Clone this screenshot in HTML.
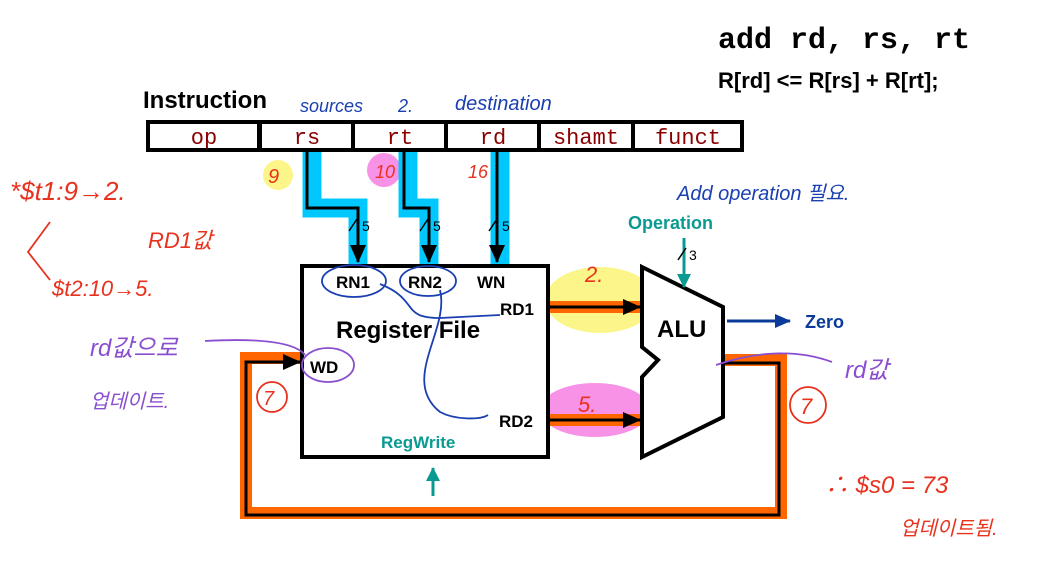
<!DOCTYPE html>
<html><head><meta charset="utf-8"><style>
html,body{margin:0;padding:0;background:#fff;}
svg{display:block;}
text{font-family:"Liberation Sans","Noto Sans CJK KR",sans-serif;}
.m,.m text{font-family:"Liberation Mono",monospace;}
.h,.h text{font-family:"Liberation Sans","Noto Sans CJK KR",sans-serif;font-style:italic;}
</style></head><body>
<svg width="1050" height="562" viewBox="0 0 1050 562" xmlns="http://www.w3.org/2000/svg">
<defs>
<marker id="abig" markerWidth="18" markerHeight="16" refX="17" refY="8" orient="auto" markerUnits="userSpaceOnUse"><path d="M0,0 L18,8 L0,16z" fill="#000"/></marker>
<marker id="at" markerWidth="14" markerHeight="14" refX="13" refY="7" orient="auto" markerUnits="userSpaceOnUse"><path d="M0,0 L14,7 L0,14z" fill="#0a9a92"/></marker>
<marker id="an" markerWidth="16" markerHeight="14" refX="15" refY="7" orient="auto" markerUnits="userSpaceOnUse"><path d="M0,0 L16,7 L0,14z" fill="#0a3a9a"/></marker>
</defs>
<circle cx="278" cy="175" r="15" fill="#fbf58a"/>
<circle cx="384" cy="170" r="17" fill="#f892e6"/>
<ellipse cx="600" cy="300" rx="55" ry="33" fill="#fbf58a"/>
<ellipse cx="595" cy="410" rx="55" ry="27" fill="#f892e6"/>
<text x="718" y="48" class="m" font-size="30" font-weight="bold">add rd, rs, rt</text>
<text x="718" y="88" font-size="22" font-weight="bold">R[rd] &lt;= R[rs] + R[rt];</text>
<text x="143" y="108" font-size="24" font-weight="bold">Instruction</text>
<path d="M312,150 V208 H358 V265" fill="none" stroke="#00c8ff" stroke-width="19"/>
<path d="M408,150 V208 H429 V265" fill="none" stroke="#00c8ff" stroke-width="19"/>
<path d="M500,150 V265" fill="none" stroke="#00c8ff" stroke-width="19"/>
<rect x="148" y="122" width="594" height="28" fill="#fff" stroke="#000" stroke-width="4"/>
<g fill="#000"><rect x="257" y="122" width="5" height="28"/><rect x="351" y="122" width="4" height="28"/><rect x="444" y="122" width="4" height="28"/><rect x="537" y="122" width="4" height="28"/><rect x="631" y="122" width="4" height="28"/></g>
<g class="m" font-size="22" fill="#8b0000" text-anchor="middle">
<text x="204" y="144">op</text><text x="307" y="144">rs</text><text x="400" y="144">rt</text><text x="493" y="144">rd</text><text x="586" y="144">shamt</text><text x="688" y="144">funct</text></g>
<g fill="none" stroke="#000" stroke-width="3">
<path d="M307,152 V208 H358 V262" marker-end="url(#abig)"/>
<path d="M404,152 V208 H429 V262" marker-end="url(#abig)"/>
<path d="M497,152 V262" marker-end="url(#abig)"/>
<path d="M349,231 L357,219 M420,231 L428,219 M489,231 L497,219" stroke-width="1.5"/>
</g>
<g font-size="14"><text x="362" y="231">5</text><text x="433" y="231">5</text><text x="502" y="231">5</text></g>
<rect x="302" y="266" width="246" height="191" fill="#fff" stroke="#000" stroke-width="4"/>
<g font-weight="bold" font-size="17">
<text x="336" y="288">RN1</text><text x="408" y="288">RN2</text><text x="477" y="288">WN</text>
<text x="500" y="315">RD1</text><text x="499" y="427">RD2</text><text x="310" y="373">WD</text></g>
<text x="336" y="338" font-size="24" font-weight="bold">Register File</text>
<text x="381" y="448" font-size="17" font-weight="bold" fill="#0a9a92">RegWrite</text>
<line x1="433" y1="496" x2="433" y2="468" stroke="#0a9a92" stroke-width="3" marker-end="url(#at)"/>
<g fill="none" stroke="#ff6600" stroke-width="12">
<line x1="550" y1="307" x2="640" y2="307"/><line x1="550" y1="420" x2="640" y2="420"/>
<path d="M724,360 H781 V513 H246 V358 H300"/></g>
<g fill="none" stroke="#000" stroke-width="3">
<line x1="550" y1="307" x2="640" y2="307" marker-end="url(#abig)"/>
<line x1="550" y1="420" x2="640" y2="420" marker-end="url(#abig)"/>
<path d="M724,363 H779 V515 H246 V362 H300" marker-end="url(#abig)"/></g>
<polygon points="642,267 723,307 723,417 642,457 642,377 658,360 642,347" fill="#fff" stroke="#000" stroke-width="4"/>
<text x="657" y="337" font-size="24" font-weight="bold">ALU</text>
<text x="628" y="229" font-size="18" font-weight="bold" fill="#0a9a92">Operation</text>
<line x1="684" y1="238" x2="684" y2="287" stroke="#0a9a92" stroke-width="3" marker-end="url(#at)"/>
<path d="M678,260 L686,248" stroke="#000" stroke-width="1.5"/><text x="689" y="260" font-size="14">3</text>
<line x1="727" y1="321" x2="790" y2="321" stroke="#0a3a9a" stroke-width="3" marker-end="url(#an)"/>
<text x="805" y="328" font-size="18" font-weight="bold" fill="#0a3a9a">Zero</text>
<g class="h" fill="#1a3fb0">
<text x="300" y="112" font-size="18">sources</text><text x="398" y="112" font-size="18">2.</text>
<text x="455" y="110" font-size="20">destination</text>
<text x="677" y="200" font-size="20">Add operation 필요.</text></g>
<g fill="none" stroke="#1a3fb0" stroke-width="1.8">
<ellipse cx="354" cy="281" rx="32" ry="16"/><ellipse cx="428" cy="281" rx="28" ry="15"/>
<path d="M380,284 C420,300 400,318 440,318 L500,315"/>
<path d="M440,290 C450,330 400,380 440,412 C455,420 480,420 488,415"/></g>
<g fill="#e8321e" class="h">
<text x="268" y="183" font-size="20">9</text><text x="375" y="178" font-size="18">10</text><text x="468" y="178" font-size="18">16</text>
<text x="10" y="200" font-size="26">*$t1:9→2.</text><text x="148" y="248" font-size="22">RD1값</text>
<text x="52" y="296" font-size="22">$t2:10→5.</text>
<text x="585" y="282" font-size="22">2.</text><text x="578" y="412" font-size="22">5.</text>
<text x="263" y="405" font-size="20">7</text><text x="800" y="414" font-size="22">7</text>
<text x="825" y="493" font-size="24">∴ $s0 = 73</text><text x="900" y="535" font-size="20">업데이트됨.</text></g>
<g fill="none" stroke="#e8321e" stroke-width="1.8">
<path d="M50,222 L28,252 L50,280"/><circle cx="272" cy="397" r="15"/><circle cx="808" cy="405" r="18"/></g>
<g fill="#8a4fd0" class="h"><text x="90" y="356" font-size="24">rd값으로</text><text x="90" y="408" font-size="20">업데이트.</text>
<text x="845" y="378" font-size="24">rd값</text></g>
<g fill="none" stroke="#8a4fd0" stroke-width="1.8">
<ellipse cx="328" cy="365" rx="26" ry="17"/><path d="M205,341 C260,338 295,342 305,355"/>
<path d="M716,365 C760,350 800,350 832,362"/></g>
</svg>
</body></html>
